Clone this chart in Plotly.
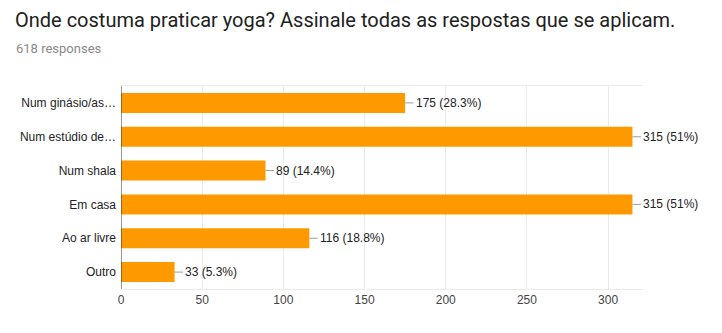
import plotly.graph_objects as go

categories = ["Num ginásio/as…", "Num estúdio de…", "Num shala", "Em casa", "Ao ar livre", "Outro"]
counts = [175, 315, 89, 315, 116, 33]
pct_labels = ["28.3%", "51%", "14.4%", "51%", "18.8%", "5.3%"]
tick_vals = [0, 50, 100, 150, 200, 250, 300]

fig = go.Figure()
fig.add_trace(go.Bar(
    y=list(range(len(categories))), x=counts, orientation="h",
    marker=dict(color="#FF9900", line=dict(width=0)),
    hoverinfo="skip",
))

shapes = []
annotations = []
for i, (c, p) in enumerate(zip(counts, pct_labels)):
    shapes.append(dict(type="line", xref="x", yref="y", x0=c, x1=c + 5.2, y0=i, y1=i,
                       line=dict(color="#9E9E9E", width=1)))
    annotations.append(dict(xref="x", yref="y", x=c + 5.2, y=i, text=f"{c} ({p})",
                            showarrow=False, xanchor="left", yanchor="middle", xshift=0,
                            font=dict(family="Liberation Sans, Arial", size=12, color="#222222")))

# zero baseline
shapes.append(dict(type="line", xref="x", yref="paper", x0=0, x1=0, y0=0, y1=1,
                   line=dict(color="#333333", width=1)))

annotations.append(dict(xref="paper", yref="paper", x=0, y=1, xanchor="left", yanchor="top",
                        text="Onde costuma praticar yoga? Assinale todas as respostas que se aplicam.",
                        showarrow=False, font=dict(family="Roboto", size=20, color="#212121"),
                        xshift=-108, yshift=80))
annotations.append(dict(xref="paper", yref="paper", x=0, y=1, xanchor="left", yanchor="top",
                        text="618 responses", showarrow=False,
                        font=dict(family="Roboto", size=13, color="#8a8a8a"),
                        xshift=-107, yshift=47))

fig.update_layout(
    width=722, height=333,
    margin=dict(l=121, r=79, t=86, b=44),
    paper_bgcolor="white", plot_bgcolor="white",
    bargap=0.41,
    showlegend=False,
    shapes=shapes, annotations=annotations,
    xaxis=dict(range=[0, 321.5], tickvals=tick_vals, showgrid=True, gridcolor="#EBEBEB",
               zeroline=False, showline=True, linecolor="#EBEBEB", mirror=True,
               tickfont=dict(family="Liberation Sans, Arial", size=12, color="#444444"),
               ticks="", ticklen=0),
    yaxis=dict(range=[len(categories) - 0.5, -0.5], tickvals=list(range(len(categories))),
               ticktext=categories, showgrid=False, zeroline=False, showline=False,
               tickfont=dict(family="Liberation Sans, Arial", size=12, color="#222222"),
               ticks="", ticklabelstandoff=4),
)

fig.write_html("out.html")
